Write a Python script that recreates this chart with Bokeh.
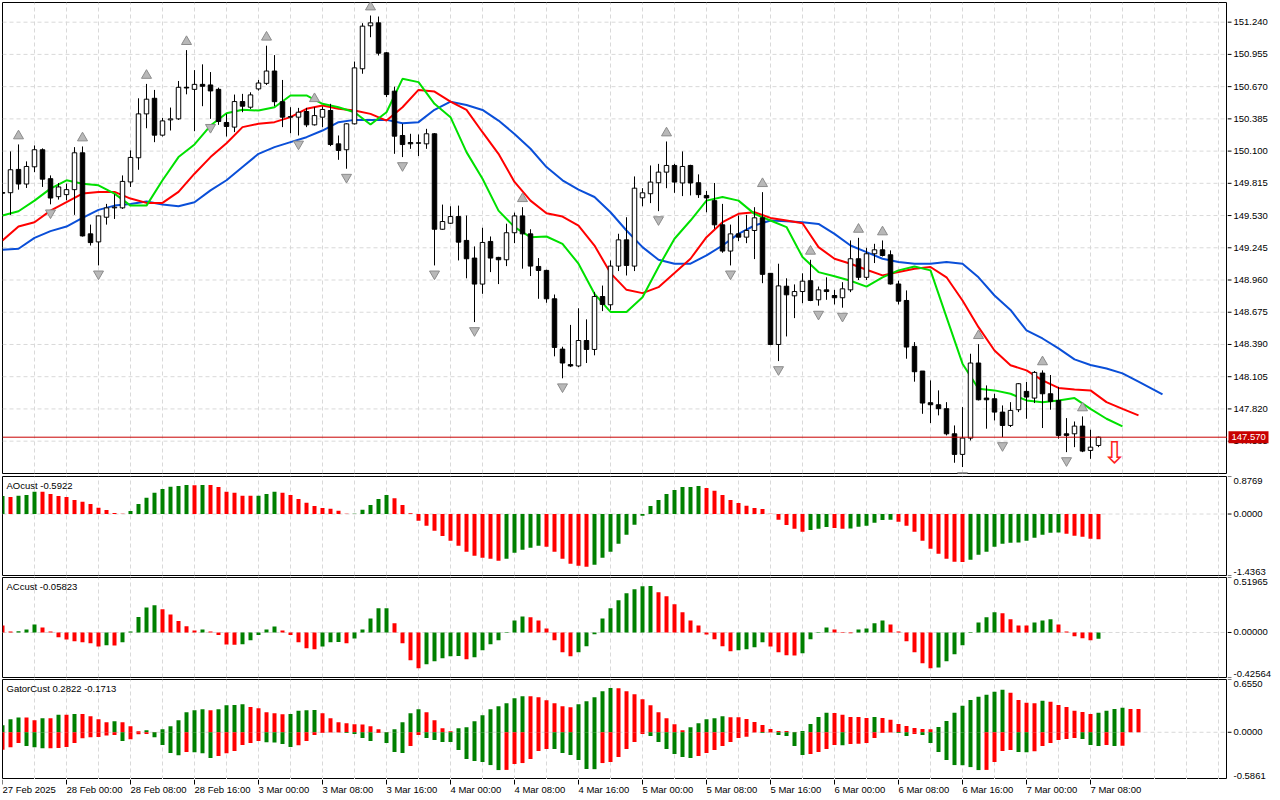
import numpy as np
from bokeh.plotting import figure
from bokeh.layouts import column, row
from bokeh.models import Range1d, Label, Span
from bokeh.core.properties import value
from bokeh.embed import file_html
from bokeh.resources import INLINE

# ---------------- data (H1 bars) ----------------
OPEN = [
    149.733, 149.732, 149.938, 149.809, 149.961, 150.112, 149.856, 149.697, 149.715, 149.759,
    150.085, 149.368, 149.297, 149.515, 149.598, 149.598, 149.827, 150.041, 150.429, 150.567,
    150.241, 150.376, 150.385, 150.664, 150.646, 150.690, 150.685, 150.646, 150.353, 150.312,
    150.538, 150.488, 150.650, 150.699, 150.808, 150.537, 150.400, 150.400, 150.450, 150.332,
    150.400, 150.459, 150.164, 150.112, 150.341, 150.828, 151.208, 151.234, 150.969, 150.630,
    150.238, 150.176, 150.173, 150.164, 150.253, 149.409, 149.462, 149.521, 149.310, 149.154,
    148.924, 149.301, 149.160, 149.139, 149.378, 149.527, 149.368, 149.080, 149.045, 148.794,
    148.349, 148.212, 148.200, 148.425, 148.346, 148.814, 148.741, 149.083, 149.315, 149.083,
    149.687, 149.723, 149.820, 149.914, 149.973, 149.818, 149.973, 149.820, 149.708, 149.662,
    149.448, 149.216, 149.368, 149.339, 149.398, 149.510, 149.019, 148.390, 148.905, 148.820,
    148.858, 148.954, 148.785, 148.873, 148.823, 148.803, 148.873, 149.148, 148.984, 149.192,
    149.227, 149.183, 148.925, 148.779, 148.373, 148.155, 147.875, 147.857, 147.822, 147.600,
    147.418, 147.562, 148.226, 147.916, 147.910, 147.792, 147.674, 147.813, 147.975, 147.916,
    148.137, 147.954, 147.895, 147.600, 147.600, 147.668, 147.453, 147.497,
]
HIGH = [
    149.760, 150.097, 150.159, 150.009, 150.150, 150.124, 149.885, 149.818, 149.812, 150.135,
    150.141, 149.450, 149.530, 149.633, 149.718, 149.885, 150.106, 150.567, 150.694, 150.641,
    150.394, 150.485, 150.720, 150.993, 150.816, 150.867, 150.799, 150.661, 150.429, 150.600,
    150.606, 150.620, 150.729, 151.032, 150.949, 150.729, 150.488, 150.482, 150.482, 150.488,
    150.494, 150.518, 150.238, 150.347, 150.892, 151.231, 151.299, 151.290, 150.975, 150.670,
    150.341, 150.253, 150.247, 150.297, 150.259, 149.627, 149.612, 149.618, 149.530, 149.257,
    149.422, 149.345, 149.165, 149.458, 149.556, 149.604, 149.409, 149.154, 149.051, 148.832,
    148.370, 148.563, 148.710, 148.612, 148.853, 148.911, 149.133, 149.369, 149.515, 149.876,
    149.772, 149.973, 149.987, 150.185, 149.987, 150.097, 149.979, 149.894, 149.747, 149.818,
    149.633, 149.450, 149.530, 149.536, 149.604, 149.737, 149.019, 149.104, 148.975, 148.921,
    149.019, 149.139, 148.902, 148.984, 148.873, 148.941, 149.310, 149.333, 149.245, 149.280,
    149.310, 149.222, 148.954, 148.868, 148.411, 148.155, 148.072, 147.984, 147.880, 147.674,
    147.836, 148.308, 148.393, 148.028, 147.954, 147.851, 147.880, 148.049, 148.058, 148.155,
    148.161, 148.120, 148.014, 147.739, 147.709, 147.754, 147.636, 147.575,
]
LOW = [
    149.700, 149.536, 149.759, 149.774, 149.914, 149.783, 149.629, 149.671, 149.665, 149.536,
    149.344, 149.265, 149.089, 149.450, 149.500, 149.589, 149.783, 149.935, 150.302, 150.179,
    150.229, 150.282, 150.376, 150.602, 150.276, 150.497, 150.385, 150.332, 150.229, 150.268,
    150.444, 150.473, 150.635, 150.685, 150.497, 150.312, 150.258, 150.238, 150.312, 150.326,
    150.312, 150.144, 150.023, 149.944, 150.335, 150.784, 151.107, 150.945, 150.577, 150.076,
    150.047, 150.120, 150.056, 150.120, 149.089, 149.404, 149.456, 149.133, 148.975, 148.588,
    148.838, 149.030, 148.924, 149.083, 149.286, 149.060, 148.995, 148.794, 148.759, 148.285,
    148.091, 148.190, 148.190, 148.226, 148.294, 148.685, 148.696, 149.039, 149.000, 149.039,
    149.612, 149.640, 149.569, 149.772, 149.731, 149.702, 149.708, 149.686, 149.559, 149.413,
    149.201, 149.089, 149.304, 149.286, 149.145, 148.932, 148.384, 148.243, 148.461, 148.623,
    148.755, 148.773, 148.733, 148.785, 148.744, 148.715, 148.853, 148.960, 148.960, 149.110,
    149.168, 148.920, 148.744, 148.264, 148.061, 147.777, 147.695, 147.763, 147.586, 147.344,
    147.306, 147.541, 147.895, 147.645, 147.718, 147.571, 147.660, 147.792, 147.733, 147.872,
    147.651, 147.813, 147.557, 147.438, 147.482, 147.438, 147.379, 147.482,
]
CLOSE = [
    149.728, 149.935, 149.809, 149.964, 150.112, 149.852, 149.685, 149.783, 149.759, 150.085,
    149.350, 149.291, 149.527, 149.598, 149.604, 149.832, 150.044, 150.429, 150.559, 150.241,
    150.367, 150.385, 150.664, 150.658, 150.690, 150.673, 150.632, 150.362, 150.318, 150.538,
    150.497, 150.597, 150.702, 150.808, 150.537, 150.400, 150.405, 150.444, 150.332, 150.414,
    150.468, 150.158, 150.106, 150.341, 150.836, 151.205, 151.234, 150.966, 150.600, 150.232,
    150.158, 150.164, 150.170, 150.253, 149.409, 149.477, 149.521, 149.295, 149.148, 148.924,
    149.292, 149.154, 149.139, 149.378, 149.527, 149.368, 149.083, 149.045, 148.794, 148.364,
    148.226, 148.200, 148.425, 148.346, 148.814, 148.744, 149.083, 149.315, 149.089, 149.772,
    149.731, 149.826, 149.914, 149.973, 149.826, 149.964, 149.818, 149.715, 149.686, 149.448,
    149.216, 149.368, 149.339, 149.398, 149.510, 149.010, 148.390, 148.908, 148.829, 148.858,
    148.950, 148.779, 148.873, 148.858, 148.803, 148.882, 149.148, 148.984, 149.192, 149.227,
    149.177, 148.925, 148.773, 148.367, 148.149, 147.872, 147.857, 147.822, 147.600, 147.418,
    147.562, 148.226, 147.901, 147.901, 147.792, 147.674, 147.807, 148.043, 147.925, 148.143,
    147.954, 147.887, 147.586, 147.586, 147.668, 147.447, 147.482, 147.570,
]

# Alligator lines, sampled every second bar (bar indices in *_X)
JAW_X = list(range(0, 145, 2)) + [145]
JAW = [
    149.227, 149.236, 149.333, 149.392, 149.433, 149.509, 149.580, 149.618, 149.633, 149.654,
    149.627, 149.612, 149.648, 149.753, 149.842, 149.959, 150.076, 150.135, 150.179, 150.223,
    150.282, 150.356, 150.376, 150.376, 150.376, 150.347, 150.356, 150.465, 150.537, 150.508,
    150.464, 150.370, 150.252, 150.121, 149.959, 149.842, 149.759, 149.694, 149.559, 149.398,
    149.251, 149.139, 149.104, 149.104, 149.177, 149.265, 149.368, 149.442, 149.486, 149.480,
    149.471, 149.456, 149.368, 149.265, 149.207, 149.148, 149.119, 149.104, 149.104, 149.119,
    149.104, 148.984, 148.823, 148.695, 148.514, 148.443, 148.355, 148.258, 148.208, 148.178,
    148.134, 148.061, 147.987, 147.949,
]
TEETH_X = list(range(0, 143, 2))
TEETH = [
    149.310, 149.433, 149.471, 149.574, 149.648, 149.724, 149.739, 149.739, 149.680, 149.642,
    149.642, 149.739, 149.900, 150.047, 150.170, 150.312, 150.341, 150.356, 150.400, 150.474,
    150.503, 150.474, 150.459, 150.429, 150.370, 150.488, 150.641, 150.626, 150.537, 150.464,
    150.267, 150.076, 149.827, 149.662, 149.551, 149.521, 149.442, 149.265, 149.021, 148.873,
    148.844, 148.897, 149.021, 149.148, 149.339, 149.471, 149.545, 149.559, 149.509, 149.486,
    149.462, 149.251, 149.148, 149.104, 149.051, 149.001, 149.030, 149.060, 149.075, 148.984,
    148.779, 148.543, 148.337, 148.206, 148.161, 148.073, 148.006, 147.991, 147.984, 147.880,
    147.820, 147.763,
]
LIPS_X = list(range(0, 141, 2))
LIPS = [
    149.530, 149.568, 149.662, 149.768, 149.842, 149.812, 149.797, 149.724, 149.618, 149.618,
    149.842, 150.047, 150.159, 150.326, 150.435, 150.465, 150.459, 150.488, 150.592, 150.592,
    150.518, 150.488, 150.444, 150.335, 150.444, 150.739, 150.710, 150.518, 150.400, 150.091,
    149.855, 149.574, 149.428, 149.339, 149.345, 149.280, 149.104, 148.838, 148.678, 148.678,
    148.808, 149.075, 149.325, 149.486, 149.662, 149.694, 149.662, 149.545, 149.486, 149.428,
    149.163, 149.030, 148.994, 148.954, 148.901, 148.984, 149.045, 149.080, 149.045, 148.632,
    148.220, 147.999, 147.984, 147.954, 147.895, 147.880, 147.895, 147.916, 147.820, 147.733,
    147.665,
]

AO_PREV = 0.40
AO = [
    0.421, 0.397, 0.428, 0.444, 0.522, 0.518, 0.467, 0.421, 0.397, 0.327,
    0.288, 0.234, 0.148, 0.093, 0.023, 0.006, 0.070, 0.234, 0.382, 0.498,
    0.584, 0.639, 0.654, 0.678, 0.672, 0.680, 0.676, 0.631, 0.522, 0.498,
    0.428, 0.426, 0.430, 0.467, 0.522, 0.498, 0.444, 0.350, 0.265, 0.187,
    0.140, 0.125, 0.078, 0.004, 0.008, 0.101, 0.210, 0.350, 0.444, 0.366,
    0.210, 0.016, -0.156, -0.273, -0.389, -0.514, -0.623, -0.740, -0.880, -0.974,
    -1.020, -1.044, -1.090, -1.044, -0.903, -0.833, -0.787, -0.740, -0.763, -0.880,
    -1.044, -1.160, -1.207, -1.231, -1.184, -1.020, -0.880, -0.693, -0.483, -0.249,
    -0.039, 0.187, 0.327, 0.467, 0.561, 0.631, 0.633, 0.654, 0.607, 0.545,
    0.444, 0.327, 0.257, 0.195, 0.140, 0.117, 0.004, -0.132, -0.257, -0.343,
    -0.413, -0.374, -0.343, -0.304, -0.327, -0.343, -0.340, -0.296, -0.273, -0.202,
    -0.140, -0.132, -0.179, -0.273, -0.413, -0.623, -0.810, -0.927, -1.044, -1.114,
    -1.118, -1.067, -0.950, -0.880, -0.763, -0.693, -0.670, -0.668, -0.623, -0.553,
    -0.483, -0.436, -0.434, -0.460, -0.506, -0.530, -0.576, -0.5922,
]
AC_PREV = 0.09
AC = [
    0.067, 0.010, 0.012, 0.029, 0.076, 0.048, 0.010, -0.044, -0.067, -0.082,
    -0.092, -0.101, -0.133, -0.120, -0.122, -0.092, 0.010, 0.146, 0.235, 0.257,
    0.219, 0.171, 0.108, 0.060, 0.019, 0.029, 0.010, -0.025, -0.114, -0.116,
    -0.112, -0.073, -0.025, 0.029, 0.057, 0.019, -0.025, -0.092, -0.149, -0.158,
    -0.133, -0.092, -0.090, -0.101, -0.057, 0.029, 0.133, 0.228, 0.230, 0.086,
    -0.101, -0.263, -0.339, -0.301, -0.273, -0.244, -0.225, -0.223, -0.254, -0.235,
    -0.168, -0.111, -0.073, -0.006, 0.114, 0.152, 0.143, 0.114, 0.038, -0.073,
    -0.187, -0.225, -0.187, -0.130, -0.016, 0.133, 0.228, 0.304, 0.371, 0.409,
    0.437, 0.439, 0.380, 0.342, 0.266, 0.190, 0.114, 0.067, -0.019, -0.063,
    -0.130, -0.177, -0.168, -0.158, -0.139, -0.092, -0.133, -0.187, -0.216, -0.218,
    -0.197, -0.063, -0.006, 0.048, 0.029, -0.006, -0.008, 0.029, 0.038, 0.086,
    0.114, 0.076, 0.010, -0.082, -0.187, -0.292, -0.339, -0.330, -0.273, -0.206,
    -0.120, -0.006, 0.095, 0.143, 0.190, 0.181, 0.124, 0.067, 0.065, 0.095,
    0.114, 0.124, 0.076, 0.010, -0.035, -0.054, -0.073, -0.05823,
]
GATOR_UP_PREV = 0.07
GATOR_UP = [
    0.087, 0.162, 0.183, 0.183, 0.149, 0.174, 0.174, 0.216, 0.216, 0.228,
    0.228, 0.199, 0.162, 0.124, 0.137, 0.124, 0.075, 0.012, 0.025, 0.002,
    0.037, 0.075, 0.149, 0.249, 0.274, 0.286, 0.274, 0.286, 0.336, 0.340,
    0.349, 0.315, 0.299, 0.249, 0.237, 0.224, 0.228, 0.266, 0.274, 0.276,
    0.237, 0.174, 0.124, 0.112, 0.100, 0.098, 0.075, 0.037, 0.004, 0.037,
    0.124, 0.237, 0.286, 0.249, 0.149, 0.050, 0.012, 0.050, 0.062, 0.137,
    0.212, 0.286, 0.324, 0.361, 0.423, 0.448, 0.446, 0.436, 0.398, 0.361,
    0.324, 0.311, 0.349, 0.386, 0.436, 0.510, 0.548, 0.546, 0.510, 0.473,
    0.411, 0.336, 0.249, 0.174, 0.100, 0.025, 0.062, 0.112, 0.162, 0.174,
    0.199, 0.187, 0.185, 0.166, 0.129, 0.091, 0.041, 0.017, 0.015, 0.002,
    0.017, 0.104, 0.191, 0.241, 0.239, 0.216, 0.191, 0.189, 0.178, 0.191,
    0.178, 0.154, 0.104, 0.079, 0.054, 0.041, 0.039, 0.066, 0.141, 0.241,
    0.328, 0.402, 0.440, 0.465, 0.502, 0.527, 0.490, 0.402, 0.365, 0.361,
    0.390, 0.378, 0.340, 0.315, 0.266, 0.253, 0.228, 0.241, 0.266, 0.290,
    0.303, 0.290, 0.288,
]
GATOR_DN_PREV = -0.23
GATOR_DN = [
    -0.216, -0.187, -0.133, -0.170, -0.187, -0.199, -0.197, -0.195, -0.183, -0.133,
    -0.075, -0.062, -0.060, -0.041, -0.033, -0.108, -0.087, -0.025, -0.021, -0.062,
    -0.158, -0.257, -0.286, -0.245, -0.247, -0.261, -0.320, -0.295, -0.261, -0.232,
    -0.158, -0.133, -0.108, -0.124, -0.126, -0.145, -0.183, -0.162, -0.108, -0.033,
    -0.008, -0.004, -0.002, -0.008, -0.021, -0.071, -0.108, -0.008, -0.133, -0.245,
    -0.257, -0.170, -0.033, -0.071, -0.095, -0.120, -0.122, -0.220, -0.332, -0.357,
    -0.369, -0.407, -0.469, -0.467, -0.394, -0.382, -0.332, -0.232, -0.207, -0.209,
    -0.257, -0.282, -0.344, -0.456, -0.458, -0.382, -0.369, -0.307, -0.207, -0.120,
    -0.021, -0.046, -0.120, -0.207, -0.270, -0.307, -0.320, -0.295, -0.257, -0.220,
    -0.170, -0.120, -0.070, -0.055, -0.002, -0.008, -0.004, -0.033, -0.046, -0.170,
    -0.282, -0.270, -0.245, -0.207, -0.158, -0.160, -0.145, -0.143, -0.133, -0.071,
    -0.008, -0.002, -0.008, -0.046, -0.021, -0.033, -0.133, -0.245, -0.344, -0.407,
    -0.409, -0.432, -0.469, -0.467, -0.369, -0.232, -0.220, -0.245, -0.247, -0.237,
    -0.170, -0.133, -0.095, -0.083, -0.071, -0.083, -0.158, -0.170, -0.158, -0.170,
    -0.168,
]
GATOR_TITLE_VALUES = (0.2822, -0.1713)

FRACTAL_UP = [2, 10, 18, 23, 33, 39, 46, 65, 83, 95, 101, 107, 110, 122, 130, 135]
FRACTAL_DN = [6, 12, 26, 37, 43, 50, 54, 59, 70, 82, 91, 97, 102, 105, 120, 125, 133]
SIGNAL_BAR = 139  # sell signal arrow

PRICE_TICKS = [147.535, 147.820, 148.105, 148.390, 148.675, 148.960, 149.245,
               149.530, 149.815, 150.100, 150.385, 150.670, 150.955, 151.240]
PRICE_RANGE = (147.249, 151.414)
AO_RANGE = (-1.4363, 0.8769)
AC_RANGE = (-0.42564, 0.51965)
GATOR_RANGE = (-0.5861, 0.6550)
TIME_TICKS = [0, 8, 16, 24, 32, 40, 48, 56, 64, 72, 80, 88, 96, 104, 112, 120, 128, 136]
TIME_LABELS = ["27 Feb 2025", "28 Feb 00:00", "28 Feb 08:00", "28 Feb 16:00", "3 Mar 00:00",
               "3 Mar 08:00", "3 Mar 16:00", "4 Mar 00:00", "4 Mar 08:00", "4 Mar 16:00",
               "5 Mar 00:00", "5 Mar 08:00", "5 Mar 16:00", "6 Mar 00:00", "6 Mar 08:00",
               "6 Mar 16:00", "7 Mar 00:00", "7 Mar 08:00"]

# ---------------- styling ----------------
GREEN = "#008000"
RED = "#ff0000"
FONT = "Liberation Sans"
FS = "9.5px"
FRAME_W = 1225
STRIP_W = 52
X_END = 153.125
ARROW_GAP = 0.075
GRID = "#d9d9d9"

xr = Range1d(0.0, X_END)
idx = np.arange(len(CLOSE))


def trend_colors(vals, prev, use_abs=False):
    out, last = [], prev
    for v in vals:
        a, b = (abs(v), abs(last)) if use_abs else (v, last)
        out.append(GREEN if a > b else RED)
        last = v
    return out


def panel(frame_h, yr, top, bottom):
    p = figure(frame_width=FRAME_W, frame_height=frame_h, x_range=xr, y_range=yr,
               output_backend="svg", toolbar_location=None,
               x_axis_location=None, y_axis_location=None,
               min_border_left=2, min_border_right=0,
               min_border_top=top, min_border_bottom=bottom)
    p.outline_line_color = "black"
    p.outline_line_width = 1
    p.background_fill_color = "white"
    p.border_fill_color = "white"
    p.grid.visible = False
    return p


def strip(frame_h, yr, top, bottom, width=STRIP_W, x_range=None):
    s = figure(frame_width=width, frame_height=frame_h,
               x_range=x_range if x_range is not None else Range1d(0, width), y_range=yr,
               output_backend="svg", toolbar_location=None,
               x_axis_location=None, y_axis_location=None,
               min_border_left=0, min_border_right=0,
               min_border_top=top, min_border_bottom=bottom)
    s.outline_line_color = None
    s.background_fill_color = "white"
    s.border_fill_color = "white"
    s.grid.visible = False
    return s


def grid_lines(p, y_levels, yr):
    vx = list(range(4, 154, 4))
    p.segment(x0=vx, x1=vx, y0=yr.start, y1=yr.end, line_color=GRID, line_dash="4 3", line_width=1)
    p.segment(x0=0, x1=X_END, y0=y_levels, y1=y_levels, line_color=GRID, line_dash="4 3",
              line_width=1)


def scale_text(s, x, ys, labels, baseline, y_offset=0, color="black"):
    s.text(x=x, y=ys, text=labels, text_font=value(FONT), text_font_size=FS,
           text_color=color, text_align="left", text_baseline=baseline, y_offset=y_offset)


def indicator(frame_h, rng, top, bottom, title, fmt):
    yr = Range1d(*rng)
    p = panel(frame_h, yr, top, bottom)
    grid_lines(p, [0], yr)
    p.add_layout(Label(x=0, y=rng[1], x_offset=4, y_offset=-3, text=title,
                       text_baseline="top", text_align="left",
                       text_font=FONT, text_font_size=FS, text_color="black"))
    s = strip(frame_h, yr, top, bottom)
    lo, hi = rng
    s.segment(x0=0, x1=4, y0=[lo, 0, hi], y1=[lo, 0, hi], line_color="black", line_width=1)
    scale_text(s, 6, [hi], [fmt % hi], "top", y_offset=1)
    scale_text(s, 6, [0], [fmt % 0], "middle")
    scale_text(s, 6, [lo], [fmt % lo], "bottom", y_offset=-1)
    return p, s


# ---------------- main price panel ----------------
yr1 = Range1d(*PRICE_RANGE)
p1 = panel(471, yr1, 2, 2)
grid_lines(p1, PRICE_TICKS, yr1)

o = np.array(OPEN)
c = np.array(CLOSE)
body_top = np.maximum(o, c)
body_bot = np.minimum(o, c)
body_fill = ["white" if cc >= oo else "black" for oo, cc in zip(OPEN, CLOSE)]

p1.line(JAW_X, JAW, line_color="#0a4fd8", line_width=2)
p1.line(TEETH_X, TEETH, line_color="#ff0000", line_width=2)
p1.line(LIPS_X, LIPS, line_color="#00e000", line_width=2)

p1.segment(x0=idx, y0=LOW, x1=idx, y1=HIGH, line_color="black", line_width=1)
p1.vbar(x=idx, top=body_top, bottom=body_bot, width=0.56, fill_color=body_fill,
        line_color="black", line_width=1)

p1.scatter(x=FRACTAL_UP, y=[HIGH[i] + ARROW_GAP for i in FRACTAL_UP], marker="triangle",
           size=10, fill_color="#b8b8b8", line_color="#8c8c8c", line_width=1)
p1.scatter(x=FRACTAL_DN, y=[LOW[i] - ARROW_GAP for i in FRACTAL_DN], marker="inverted_triangle",
           size=10, fill_color="#b8b8b8", line_color="#8c8c8c", line_width=1)

p1.add_layout(Span(location=CLOSE[-1], dimension="width", line_color="#c80000", line_width=1))
p1.text(x=[SIGNAL_BAR], y=[CLOSE[-1]], text=["\u21e9"], text_font=value("DejaVu Sans"),
        text_font_size="30px", text_color="#ff2020", text_align="center",
        text_baseline="top", y_offset=-2)

s1 = strip(471, yr1, 2, 2)
s1.segment(x0=0, x1=4, y0=PRICE_TICKS, y1=PRICE_TICKS, line_color="black", line_width=1)
scale_text(s1, 6, PRICE_TICKS, ["%.3f" % v for v in PRICE_TICKS], "middle")
s1.rect(x=21, y=[CLOSE[-1]], width=40, height=12, height_units="screen",
        fill_color="#c80000", line_color=None)
scale_text(s1, 4, [CLOSE[-1]], ["%.3f" % CLOSE[-1]], "middle", color="white")

# ---------------- AO / AC / Gator panels ----------------
p2, s2 = indicator(99, AO_RANGE, 1, 1, "AOcust %.4f" % AO[-1], "%.4f")
p2.vbar(x=idx, top=AO, bottom=0, width=0.5, fill_color=trend_colors(AO, AO_PREV), line_color=None)

p3, s3 = indicator(100, AC_RANGE, 1, 1, "ACcust %.5f" % AC[-1], "%.5f")
p3.vbar(x=idx, top=AC, bottom=0, width=0.5, fill_color=trend_colors(AC, AC_PREV), line_color=None)

p4, s4 = indicator(100, GATOR_RANGE, 1, 0, "GatorCust %.4f %.4f" % GATOR_TITLE_VALUES, "%.4f")
p4.vbar(x=np.arange(len(GATOR_UP)), top=GATOR_UP, bottom=0, width=0.5,
        fill_color=trend_colors(GATOR_UP, GATOR_UP_PREV), line_color=None)
p4.vbar(x=np.arange(len(GATOR_DN)), top=0, bottom=GATOR_DN, width=0.5,
        fill_color=trend_colors(GATOR_DN, GATOR_DN_PREV, use_abs=True), line_color=None)

# ---------------- time scale ----------------
t = strip(20, Range1d(0, 20), 0, 0, width=FRAME_W, x_range=xr)
t.min_border_left = 2
t.segment(x0=TIME_TICKS, x1=TIME_TICKS, y0=20, y1=15, line_color="black", line_width=1)
t.text(x=TIME_TICKS, y=16, text=TIME_LABELS, text_font=value(FONT), text_font_size=FS,
       text_color="black", text_align="left", text_baseline="top", y_offset=0)

layout = column(row(p1, s1, spacing=0), row(p2, s2, spacing=0), row(p3, s3, spacing=0),
                row(p4, s4, spacing=0), t, spacing=0)
open("out.html", "w").write(file_html(layout, INLINE))
